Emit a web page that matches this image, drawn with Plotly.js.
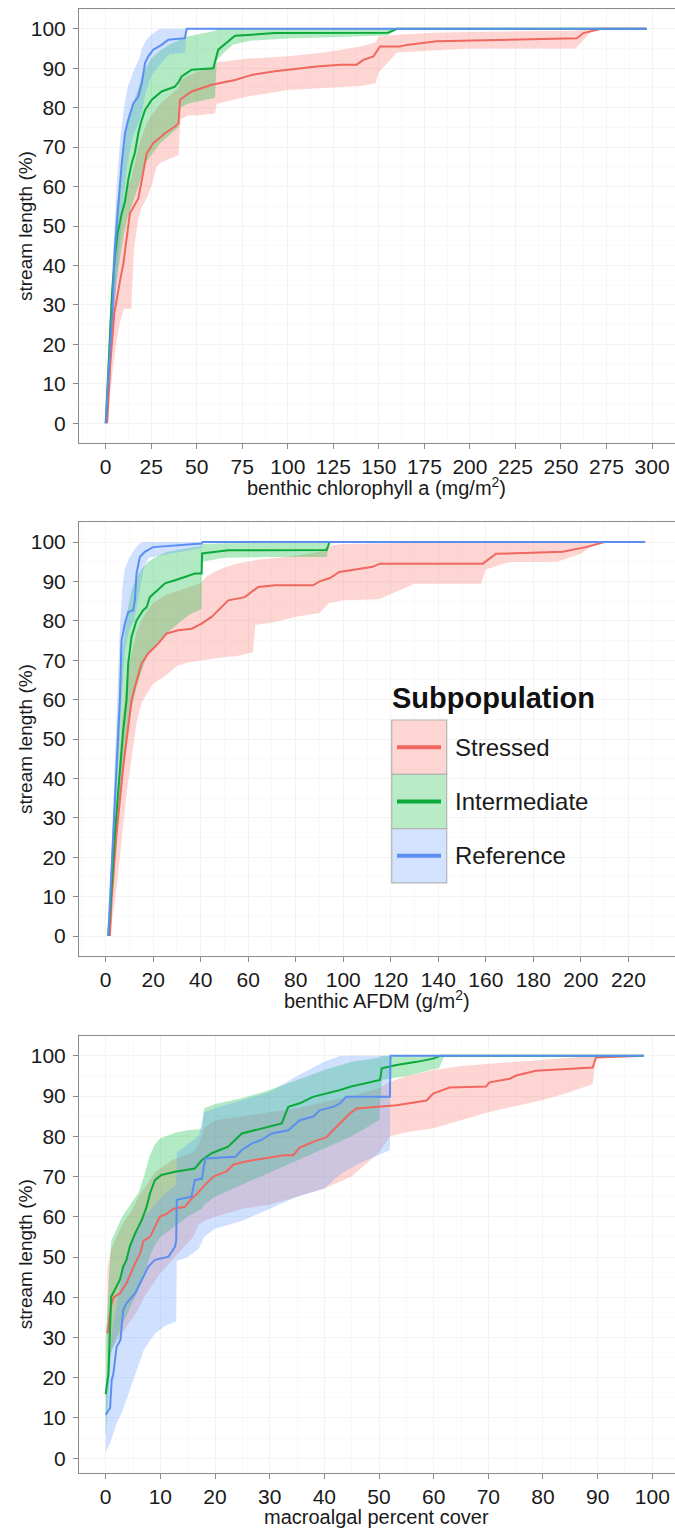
<!DOCTYPE html>
<html>
<head>
<meta charset="utf-8">
<script src="https://cdn.plot.ly/plotly-3.0.1.min.js"></script>
<style>html,body{margin:0;padding:0;background:#fff}#chart{width:675px;height:1530px}</style>
</head>
<body>
<div id="chart"></div>
<script>
// ---------- DATA ----------
const groups = ["Stressed", "Intermediate", "Reference"];
const yTicks = [0, 10, 20, 30, 40, 50, 60, 70, 80, 90, 100];

// Panel 1: benthic chlorophyll a
const chlStressedX = [0.8, 2.5, 4.7, 6.5, 7.9, 9.7, 11.5, 13.3, 15.5, 17.9, 19.8, 22.5, 26.1, 32.6, 38, 40, 40.8, 47.2, 58.2, 71, 80.2, 93, 115.9, 128.7, 137.8, 141.5, 147, 150.6, 161.6, 165.3, 181.8, 214.7, 258.7, 262.3, 267.8, 272, 297];
const chlStressedY = [0, 15, 27.8, 33, 36.2, 40.5, 47, 53.2, 55, 57, 61.6, 68.4, 71, 73.5, 75.2, 76, 82, 84.1, 85.8, 87, 88.3, 89.2, 90.4, 90.9, 90.9, 92.1, 93, 95.5, 95.5, 95.9, 96.8, 97.2, 97.6, 98.9, 99.6, 100, 100];
const chlInterX = [0, 2, 3.5, 5, 6.5, 8.8, 10.5, 11.5, 12.5, 14.3, 16, 17.9, 19.5, 21.6, 25.3, 30.7, 38, 40, 41.7, 47.2, 59.1, 61.8, 67.3, 71, 93, 155, 160, 297];
const chlInterY = [0, 18, 33, 42, 48, 53.2, 56, 59, 62, 65.9, 68.5, 73.5, 76.5, 79.4, 82, 84.1, 85.3, 86.5, 87.9, 89.6, 90, 94.7, 96.8, 98.2, 98.9, 99, 100, 100];
const chlRefX = [0, 2, 3.6, 5.1, 6.6, 8.4, 8.8, 10.6, 12.4, 15.2, 17.9, 19.8, 21.6, 23.4, 26.1, 30.7, 34.4, 43.5, 44.5, 297];
const chlRefY = [0, 17, 28, 44.7, 53.2, 62, 65.9, 73.5, 76.9, 81.1, 82.8, 86.2, 91.3, 93, 94.7, 95.9, 97.2, 97.6, 100, 100];
const chlStressedBandX = [0, 2, 4, 6, 8, 10, 12, 14, 15.5, 18, 20, 22.5, 25, 28, 30, 35, 40, 41, 45, 50, 60, 61, 70, 80, 100, 120, 140, 148, 150, 160, 180, 200, 240, 258, 262, 266, 270, 297];
const chlStressedLo = [0, 5, 14, 21, 26, 29, 29, 29, 44, 52, 55, 57, 60, 65, 66, 67, 68, 77, 78, 78, 78.5, 81, 82, 83, 84.5, 85, 85.5, 86.2, 89, 94, 94.5, 95, 95, 95, 97, 99, 100, 100];
const chlStressedHi = [0, 25, 38, 45, 50, 56, 60, 62, 65, 70, 73, 76, 78, 80, 81, 83, 85, 87, 88, 89, 90.5, 91.5, 92, 92.5, 93, 94, 95.5, 96.5, 98, 98.5, 99, 99.2, 99.4, 99.5, 99.8, 100, 100, 100];
const chlInterBandX = [0, 2, 4, 6, 8, 10, 12, 15, 18, 20, 22, 25, 30, 35, 40, 41, 45, 50, 55, 60, 61, 65, 70, 80, 100, 130, 155, 160, 297];
const chlInterLo = [0, 12, 26, 36, 42, 48, 52, 56, 60, 63, 66, 68, 71, 73, 75, 80, 81, 81.5, 82, 82.5, 92, 94, 96, 97, 97.5, 98, 98.3, 100, 100];
const chlInterHi = [0, 22, 42, 55, 63, 70, 76, 81, 85, 88, 90, 92.5, 94.5, 96, 97, 97.5, 98, 98.5, 99, 99.5, 100, 100, 100, 100, 100, 100, 100, 100, 100];
const chlRefBandX = [0, 2, 4, 6, 8, 10, 12, 15, 18, 20, 22, 25, 28, 30, 35, 40, 43.5, 44.5, 297];
const chlRefLo = [0, 12, 22, 36, 47, 58, 66, 73, 76, 79, 84, 88, 90, 91, 93.5, 93.8, 94, 100, 100];
const chlRefHi = [0, 25, 42, 60, 72, 80, 85, 89, 92, 95, 97, 98.5, 99.5, 100, 100, 100, 100, 100, 100];

// Panel 2: benthic AFDM
const afdmStressedX = [1.8, 2.5, 4.6, 7.4, 9.5, 10.9, 12.3, 15.1, 17.9, 22.1, 25.7, 30.6, 36.2, 40.4, 44.6, 48.8, 51.6, 58.6, 64.2, 71.3, 87.3, 90, 94.2, 98.4, 112.4, 115.3, 158.7, 164.3, 192.3, 202.1, 207.7, 210, 227];
const afdmStressedY = [0, 9, 26, 42.9, 53, 59.8, 63.2, 69.1, 71.7, 74.2, 76.8, 77.6, 78, 79.3, 81, 83.5, 85.2, 86, 88.6, 89, 89, 90, 90.8, 92.4, 93.7, 94.5, 94.5, 97, 97.5, 98.7, 99.7, 100, 100];
const afdmInterX = [1.1, 2.2, 3.9, 6, 7.4, 8.8, 9.5, 10.9, 13, 15.8, 17.3, 18.6, 21.5, 25, 29.2, 33.4, 37.6, 40.4, 40.6, 51.6, 71.3, 93, 94.3, 227];
const afdmInterY = [0, 9, 26, 42.9, 52.2, 59.8, 69.1, 75.9, 80.1, 82.7, 83.5, 86, 87.7, 89.5, 90.3, 91.1, 92, 92, 97.1, 97.9, 98, 98, 100, 100];
const afdmRefX = [1.1, 1.8, 3.2, 4.6, 5.3, 6, 6.7, 8.1, 9.5, 11.6, 12.3, 13, 14.4, 16.5, 20, 40.4, 40.8, 227];
const afdmRefY = [0, 9, 26, 42.9, 52.2, 59.8, 75, 79.3, 82.2, 82.7, 85.2, 92, 96.2, 97.5, 98.7, 99.6, 100, 100];
const afdmStressedBandX = [1.8, 3, 5, 7, 9, 11, 13, 15, 18, 20, 25, 30, 35, 40, 42, 46, 50, 55, 62, 63, 70, 80, 90, 94, 100, 115, 130, 158, 160, 170, 190, 200, 205, 210, 227];
const afdmStressedLo = [0, 5, 14, 26, 37, 46, 54, 59, 62, 64, 66, 68.5, 69.5, 70, 70.2, 70.5, 70.8, 71, 72, 79, 79.5, 81, 82, 84.5, 85.2, 85.5, 89.4, 89.4, 93, 94.9, 95, 97, 99, 100, 100];
const afdmStressedHi = [0, 18, 38, 55, 66, 72, 77, 80, 83, 84.5, 86.5, 87.5, 88.5, 89.5, 91, 92.5, 93.5, 94.5, 95.2, 95.5, 95.8, 96.5, 97.5, 99, 99.5, 99.7, 99.8, 99.9, 100, 100, 100, 100, 100, 100, 100];
const afdmInterBandX = [1.1, 3, 5, 7, 9, 11, 13, 15, 18, 22, 26, 30, 35, 40.4, 40.6, 50, 70, 93, 94.3, 227];
const afdmInterLo = [0, 15, 30, 40, 50, 58, 63, 67, 72, 74, 77, 79, 81.5, 83, 95, 96, 96.2, 96.2, 100, 100];
const afdmInterHi = [0, 28, 55, 72, 82, 88, 91, 93, 95, 96.5, 97.5, 98, 98.5, 99, 99.5, 99.7, 99.8, 99.8, 100, 100];
const afdmRefBandX = [1.1, 2, 3, 4, 5, 6, 7, 8, 10, 12, 14, 16, 18, 40.4, 40.8, 227];
const afdmRefLo = [0, 5, 16, 30, 40, 50, 62, 72, 78, 80, 86, 93, 96, 98.5, 100, 100];
const afdmRefHi = [0, 14, 30, 45, 62, 78, 88, 93, 96, 98, 99.5, 100, 100, 100, 100, 100];

// Panel 3: macroalgal percent cover
const macStressedX = [0.3, 0.5, 1, 1.5, 2.6, 3.8, 5.1, 6.3, 6.9, 8.1, 9, 9.9, 11.2, 12.4, 14.5, 15.7, 16.9, 18.2, 19.7, 22.1, 23.4, 25.8, 29.5, 32.5, 34.3, 35.5, 38.6, 40.4, 41.6, 42.9, 44.7, 45.9, 50.2, 53.2, 58.7, 59.9, 62.9, 69.6, 70.2, 73.9, 75.1, 78.7, 89.1, 89.7, 98.4];
const macStressedY = [31, 33, 38, 40, 41, 43.5, 47.6, 50.9, 54, 55, 57.5, 60, 60.8, 62, 62.5, 64.5, 66, 68, 70, 71.3, 73, 73.8, 74.6, 75.3, 75.3, 77.2, 79, 79.8, 81.5, 83.2, 85.7, 86.9, 87.3, 87.7, 88.9, 90.6, 92.1, 92.4, 93.4, 94.3, 95.1, 96.3, 97.1, 99.6, 100];
const macInterX = [0, 0.5, 1, 1.7, 2.6, 3.2, 3.8, 4.4, 5.4, 6.6, 7.5, 8.1, 9, 10.2, 12.7, 16.3, 17.6, 19.4, 22.4, 24.9, 28.5, 32.2, 33.4, 35.5, 37.9, 40.4, 42.9, 44.7, 50.2, 50.5, 53.2, 56.9, 59.9, 61.2, 98.4];
const macInterY = [15.9, 21.1, 40.1, 41.8, 44.3, 47.6, 49.3, 52.6, 55.9, 59.2, 62.5, 65.8, 69.1, 70.4, 71.2, 72, 74.1, 75.8, 77.4, 80.7, 82, 83.2, 87.3, 88.2, 89.8, 90.6, 91.5, 92.3, 94, 96.9, 97.7, 98.5, 99.3, 100, 100];
const macRefX = [0, 0.8, 1.1, 1.4, 2, 2.7, 3.2, 3.8, 5.4, 6.6, 7.8, 9, 11.5, 12.7, 12.9, 13, 15.7, 16.3, 17.6, 18.2, 23.7, 24.9, 26.7, 28.5, 30.4, 33.4, 35.5, 38, 39.2, 41.6, 42.9, 44, 52, 52.1, 98.4];
const macRefY = [10.8, 12.5, 19.4, 21, 27.7, 29.4, 36.8, 38.5, 41, 44.3, 47.6, 49.3, 50.1, 52.6, 54.2, 64.2, 65, 69.1, 69.5, 74.5, 74.9, 76.6, 78.2, 79.1, 80.7, 81.5, 84, 84.9, 86.5, 87.3, 88.2, 89.8, 89.8, 100, 100];
const macStressedBandX = [0.3, 1, 2, 3, 4, 5, 6, 7, 8, 9, 10, 12, 14, 16, 17, 18, 20, 25, 30, 35, 40, 45, 50, 52, 55, 60, 65, 70, 75, 80, 85, 89.1, 89.7, 98.4];
const macStressedLo = [22, 27, 29, 31, 33, 35, 37, 40, 42, 44, 46, 49, 52, 55, 58, 59, 60, 62, 63, 65, 67, 70, 76, 80, 81, 82, 84, 86, 87.5, 89, 91, 93, 100, 100];
const macStressedHi = [47, 52, 55, 58, 60, 62, 65, 67, 69, 71, 72, 74, 75, 76, 78, 82, 84, 85, 86, 87, 88.5, 90, 92, 93.5, 95, 96.5, 97.5, 98, 98.5, 99, 99.5, 99.8, 100, 100];
const macInterBandX = [0, 1, 2, 3, 4, 5, 6, 7, 8, 9, 10, 12, 13, 15, 17.6, 18, 20, 25, 30, 35, 40, 45, 50, 50.5, 55, 61, 62, 98.4];
const macInterLo = [5, 26, 30, 33, 36, 39, 42, 45, 50, 53, 55, 57, 58, 60, 62, 63, 65, 68, 71, 74, 77, 80, 84, 94, 95, 97, 100, 100];
const macInterHi = [30, 54, 57, 60, 62, 64, 66, 70, 75, 78, 79.5, 80.5, 81, 81.5, 81.8, 87, 88, 89.5, 91.5, 94, 96.5, 98.5, 99.5, 100, 100, 100, 100, 100];
const macRefBandX = [0, 1, 2, 3, 4, 5, 6, 7, 9, 11, 12.9, 13, 15, 17, 18, 20, 25, 30, 35, 40, 43, 46, 52, 52.1, 98.4];
const macRefLo = [1.4, 4.5, 8.7, 11.5, 15, 19, 23, 27, 31, 33, 34, 49, 50, 52, 55, 57, 59, 62, 65, 67, 70.6, 73, 76.6, 100, 100];
const macRefHi = [18, 30, 38, 46, 50, 55, 58, 60, 63, 66, 68, 76, 78, 80, 86, 87, 89, 91, 95, 98.5, 100, 100, 100, 100, 100];

// ---------- STYLE ----------
const lineColors = {Stressed: "#F0675F", Intermediate: "#0BAA3A", Reference: "#5B8EF0"};
const fillColors = {Stressed: "rgba(248,118,109,0.3)", Intermediate: "rgba(0,186,56,0.3)", Reference: "rgba(97,156,255,0.3)"};
const keyFill = {Stressed: "#FDD5D2", Intermediate: "#B8EBC6", Reference: "#D2E2FF"};

const W = 675, H = 1530;
const fx = p => p / W;
const fy = p => 1 - p / H;

const panels = [
  {xa: "x", ya: "y", data: {
    Stressed: [chlStressedX, chlStressedY, chlStressedBandX, chlStressedLo, chlStressedHi],
    Intermediate: [chlInterX, chlInterY, chlInterBandX, chlInterLo, chlInterHi],
    Reference: [chlRefX, chlRefY, chlRefBandX, chlRefLo, chlRefHi]}},
  {xa: "x2", ya: "y2", data: {
    Stressed: [afdmStressedX, afdmStressedY, afdmStressedBandX, afdmStressedLo, afdmStressedHi],
    Intermediate: [afdmInterX, afdmInterY, afdmInterBandX, afdmInterLo, afdmInterHi],
    Reference: [afdmRefX, afdmRefY, afdmRefBandX, afdmRefLo, afdmRefHi]}},
  {xa: "x3", ya: "y3", data: {
    Stressed: [macStressedX, macStressedY, macStressedBandX, macStressedLo, macStressedHi],
    Intermediate: [macInterX, macInterY, macInterBandX, macInterLo, macInterHi],
    Reference: [macRefX, macRefY, macRefBandX, macRefLo, macRefHi]}}
];

const traces = [];
panels.forEach(p => {
  groups.forEach(g => {
    const d = p.data[g];
    traces.push({
      type: "scatter", mode: "lines", xaxis: p.xa, yaxis: p.ya,
      x: d[2].concat(d[2].slice().reverse()),
      y: d[4].concat(d[3].slice().reverse()),
      fill: "toself", fillcolor: fillColors[g], line: {width: 0},
      hoverinfo: "skip", showlegend: false
    });
  });
  groups.forEach(g => {
    const d = p.data[g];
    traces.push({
      type: "scatter", mode: "lines", xaxis: p.xa, yaxis: p.ya,
      x: d[0], y: d[1], name: g,
      line: {color: lineColors[g], width: 2},
      showlegend: false
    });
  });
});

const FONT = "Liberation Sans, Arial, sans-serif";
const tickFont = {family: FONT, size: 21, color: "#1a1a1a"};

function xAxis(anchor, range, dtick) {
  return {
    anchor: anchor, domain: [fx(79), 1], range: range, dtick: dtick, tick0: 0,
    showline: true, mirror: true, linecolor: "#8a8a8a", linewidth: 1,
    ticks: "outside", ticklen: 5, tickcolor: "#8a8a8a", tickfont: tickFont,
    showgrid: true, gridcolor: "#f3f3f3", gridwidth: 1, zeroline: false,
    minor: {dtick: dtick / 2, showgrid: true, gridcolor: "#f9f9f9"}
  };
}
function yAxis(anchor, domain, range) {
  return {
    anchor: anchor, domain: domain, range: range, tickvals: yTicks,
    showline: true, mirror: true, linecolor: "#8a8a8a", linewidth: 1,
    ticks: "outside", ticklen: 5, tickcolor: "#8a8a8a", tickfont: tickFont,
    ticklabelstandoff: 3,
    showgrid: true, gridcolor: "#f3f3f3", gridwidth: 1, zeroline: false,
    minor: {tickvals: [5, 15, 25, 35, 45, 55, 65, 75, 85, 95], showgrid: true, gridcolor: "#f9f9f9"}
  };
}

const shapes = [];
const annotations = [];
// axis titles
const panelY = [[9, 443], [522.3, 955.7], [1035.7, 1472.7]];
const xTitles = ["benthic chlorophyll a (mg/m<sup>2</sup>)", "benthic AFDM (g/m<sup>2</sup>)", "macroalgal percent cover"];
panelY.forEach((pr, i) => {
  annotations.push({xref: "paper", yref: "paper", x: fx(25), y: fy((pr[0] + pr[1]) / 2),
    text: "stream length (%)", textangle: -90, showarrow: false, xanchor: "center", yanchor: "middle",
    font: {family: FONT, size: 19, color: "#1a1a1a"}});
  annotations.push({xref: "paper", yref: "paper", x: fx(376.5), y: fy(pr[1] + 44),
    text: xTitles[i], showarrow: false, xanchor: "center", yanchor: "middle",
    font: {family: FONT, size: 20, color: "#1a1a1a"}});
});

// legend (drawn manually inside panel 2)
annotations.push({xref: "paper", yref: "paper", x: fx(390), y: fy(698), text: "<b>Subpopulation</b>",
  showarrow: false, xanchor: "left", yanchor: "middle", font: {family: FONT, size: 29, color: "#111"}});
const keyTop = 720, keyH = 54.3;
groups.forEach((g, i) => {
  const t = keyTop + i * keyH, b = t + keyH, c = t + keyH / 2;
  shapes.push({type: "rect", xref: "paper", yref: "paper", x0: fx(391.7), x1: fx(446.7), y0: fy(b), y1: fy(t),
    fillcolor: keyFill[g], line: {color: "#b5b5b5", width: 1.2}});
  shapes.push({type: "line", xref: "paper", yref: "paper", x0: fx(397), x1: fx(441), y0: fy(c), y1: fy(c),
    line: {color: lineColors[g], width: 4}});
  annotations.push({xref: "paper", yref: "paper", x: fx(453), y: fy(c), text: g, showarrow: false,
    xanchor: "left", yanchor: "middle", font: {family: FONT, size: 24, color: "#1a1a1a"}});
});

const layout = {
  width: W, height: H, margin: {l: 0, r: 0, t: 0, b: 0},
  paper_bgcolor: "#ffffff", plot_bgcolor: "#ffffff", showlegend: false,
  xaxis: xAxis("y", [-14.66, 312.6], 25),
  yaxis: yAxis("x", [fy(443), fy(9)], [-5, 105]),
  xaxis2: xAxis("y2", [-11.2, 239.6], 20),
  yaxis2: yAxis("x2", [fy(955.7), fy(522.3)], [-5, 105]),
  xaxis3: xAxis("y3", [-4.885, 104.15], 10),
  yaxis3: yAxis("x3", [fy(1472.7), fy(1035.7)], [-3.6, 105]),
  shapes: shapes, annotations: annotations
};

Plotly.newPlot("chart", traces, layout, {staticPlot: true, displayModeBar: false});
</script>
</body>
</html>
